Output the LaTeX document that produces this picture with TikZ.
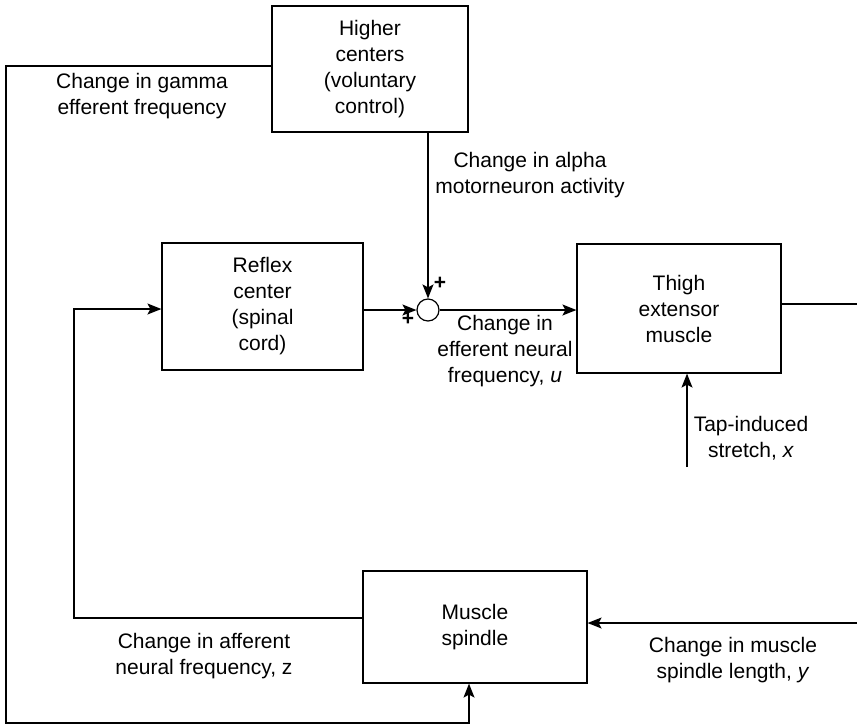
\documentclass[tikz,border=0pt]{standalone}
\usepackage{fontspec}
\setmainfont{Liberation Sans}
\usetikzlibrary{arrows.meta}
\begin{document}
\begin{tikzpicture}[x=1pt,y=-1pt,
  every node/.style={font=\fontsize{21}{26}\selectfont},
  box/.style={draw, line width=1.2pt, align=center, inner sep=0pt},
  lbl/.style={align=center, inner sep=0pt},
  ln/.style={line width=1.2pt},
  arr/.style={line width=1.2pt, -{Stealth[length=14pt,width=11pt,inset=3pt]}},
  sgn/.style={font=\fontsize{21}{21}\selectfont\bfseries, inner sep=0pt}]
\useasboundingbox (0,0) rectangle (857,724);
\node[box, minimum width=196pt, minimum height=126pt] (higher) at (370,69) {Higher\\centers\\(voluntary\\control)};
\node[box, minimum width=201pt, minimum height=127pt] (reflex) at (262.5,306.5) {Reflex\\center\\(spinal\\cord)};
\node[box, minimum width=204pt, minimum height=129pt] (thigh) at (679,308.5) {Thigh\\extensor\\muscle};
\node[box, minimum width=224pt, minimum height=112pt] (spindle) at (475,627) {Muscle\\spindle};
\node[draw, circle, line width=1.2pt, minimum size=22pt, inner sep=0pt] (sum) at (428,310) {};
\node[sgn] (p1) at (440,283) {+};
\node[sgn] (p2) at (408,319) {+};
\coordinate (out) at (857,304);
\coordinate (tap) at (687,467);
\coordinate (yin) at (857,623);
\coordinate (fbA) at (74,618);
\coordinate (fbB) at (74,309);
\coordinate (gA) at (6,66);
\coordinate (gB) at (6,723);
\coordinate (gC) at (469,723);
\draw[arr] (higher.south -| sum) -- (sum.north);
\draw[arr] (reflex.east |- sum) -- (sum.west);
\draw[arr] (sum.east) -- (thigh.west |- sum);
\draw[ln] (thigh.east |- out) -- (out);
\draw[arr] (tap) -- (thigh.south -| tap);
\draw[arr] (yin) -- (spindle.east |- yin);
\draw[arr] (spindle.west |- fbA) -- (fbA) -- (fbB) -- (reflex.west |- fbB);
\draw[arr] (higher.west |- gA) -- (gA) -- (gB) -- (gC) -- (spindle.south -| gC);
\node[lbl] (lg) at (142,96) {Change in gamma\\efferent frequency};
\node[lbl] (la) at (530,175) {Change in alpha\\motorneuron activity};
\node[lbl] (lu) at (505,351) {Change in\\efferent neural\\frequency, \textit{u}};
\node[lbl] (lx) at (751,438) {Tap-induced\\stretch, \textit{x}};
\node[lbl] (lz) at (204,656) {Change in afferent\\neural frequency, z};
\node[lbl] (ly) at (733,660) {Change in muscle\\spindle length, \textit{y}};
\end{tikzpicture}
\end{document}
